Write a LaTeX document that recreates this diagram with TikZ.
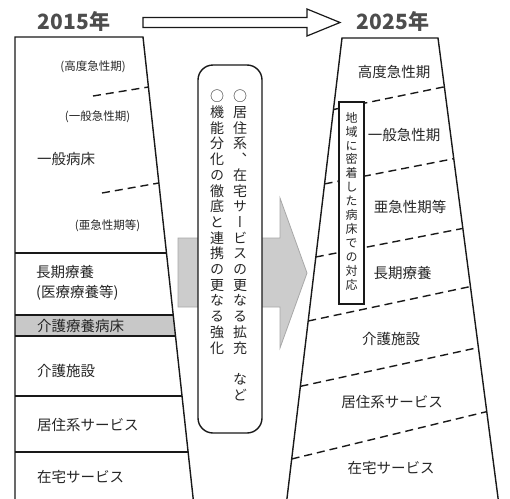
\documentclass[tikz,border=0pt]{standalone}
\usepackage{fontspec}
\setmainfont{Noto Sans CJK JP}
\newfontfamily\vjp[RawFeature=+vert]{Noto Sans CJK JP}
\definecolor{titlegray}{HTML}{4D4D4D}
\definecolor{txt}{HTML}{262626}
\definecolor{bandgray}{HTML}{C8C8C8}
\definecolor{arrowfill}{HTML}{CCCCCC}
\definecolor{arrowline}{HTML}{A8A8A8}
\tikzset{
  edge/.style={line width=1.4pt, black!90},
  dline/.style={line width=1.4pt, black!90, dash pattern=on 8pt off 5pt},
  lbl/.style={inner sep=0pt, text=txt, font=\fontsize{14.5}{20}\selectfont},
  smalllbl/.style={inner sep=0pt, text=txt, font=\fontsize{11.5}{14}\selectfont},
  yeartitle/.style={inner sep=0pt, text=titlegray, font=\bfseries\fontsize{21}{24}\selectfont},
  vcolumn/.style={inner sep=0pt, anchor=north, align=center, text=txt, font=\vjp\fontsize{14}{15.7}\selectfont},
  vsmall/.style={inner sep=0pt, anchor=north, align=center, text=txt, font=\vjp\fontsize{12}{13.9}\selectfont},
}
\begin{document}
\begin{tikzpicture}[x=1pt,y=-1pt]
\useasboundingbox (0,0) rectangle (510,498);
\clip (0,0) rectangle (510,498);

% top hollow arrow
\draw[line width=1.2pt, black!90, fill=white] (143,17.5) -- (307,17.5) -- (307,9) -- (340,22.5) -- (307,36) -- (307,27.5) -- (143,27.5) -- cycle;
\node[yeartitle] (y1) at (74,21) {2015年};
\node[yeartitle] (y2) at (393,21) {2025年};

% left trapezoid
\fill[bandgray] (15,315) -- (173.2,315) -- (175.4,336) -- (15,336) -- cycle;
\draw[edge] (15,520) -- (15,37) -- (143,37) -- (195.5,520);
\draw[edge] (15,253) -- (166.4,253);
\draw[edge] (15,315) -- (173.2,315);
\draw[edge] (15,336) -- (175.4,336);
\draw[edge] (15,396) -- (182,396);
\draw[edge] (15,452) -- (188.1,452);
\draw[dline] (93,96) -- (148.4,87);
\draw[dline] (102,193) -- (158.8,183);

\node[smalllbl] (l1) at (93,67) {(高度急性期)};
\node[smalllbl] (l2) at (97.5,117) {(一般急性期)};
\node[lbl, anchor=west] (l3) at (37,159) {一般病床};
\node[smalllbl] (l4) at (107.5,226) {(亜急性期等)};
\node[lbl, anchor=west, align=left] (l5) at (36,283) {長期療養\\(医療療養等)};
\node[lbl, anchor=west] (l6) at (37,326) {介護療養病床};
\node[lbl, anchor=west] (l7) at (37,371) {介護施設};
\node[lbl, anchor=west] (l8) at (37,425) {居住系サービス};
\node[lbl, anchor=west] (l9) at (37,477) {在宅サービス};

% middle gray arrow
\draw[line width=0.8pt, draw=arrowline, fill=arrowfill] (178,238) -- (280,238) -- (280,198) -- (307,273) -- (280,348) -- (280,307) -- (178,307) -- cycle;

% rounded box
\draw[edge, fill=white, rounded corners=15pt] (198,65) rectangle (262,433);
\node[vcolumn] (c1) at (240,90) {○\\居\\住\\系\\、\\在\\宅\\サ\\ー\\ビ\\ス\\の\\更\\な\\る\\拡\\充\\　\\な\\ど};
\node[vcolumn] (c2) at (217,90) {○\\機\\能\\分\\化\\の\\徹\\底\\と\\連\\携\\の\\更\\な\\る\\強\\化};

% right trapezoid
\draw[edge] (284.4,520) -- (342,38) -- (438,38) -- (500.9,520);
\draw[dline] (334,109.4) -- (444.4,86.8);
\draw[dline] (324.6,183.9) -- (453.8,158.7);
\draw[dline] (315.8,257) -- (462.9,228.4);
\draw[dline] (308.2,321) -- (470.5,286.5);
\draw[dline] (300.5,386.3) -- (478.4,347.5);
\draw[dline] (291.6,459) -- (486.8,411.6);

\node[lbl] (r1) at (394,72) {高度急性期};
\node[lbl] (r2) at (404,135) {一般急性期};
\node[lbl] (r3) at (410,207) {亜急性期等};
\node[lbl] (r4) at (402.5,273) {長期療養};
\node[lbl] (r5) at (391,339) {介護施設};
\node[lbl] (r6) at (392,402) {居住系サービス};
\node[lbl] (r7) at (391,468) {在宅サービス};

% small vertical box
\draw[line width=1.3pt, black!90, fill=white] (339,102) rectangle (364,304);
\node[vsmall] (sb) at (351.5,112) {地\\域\\に\\密\\着\\し\\た\\病\\床\\で\\の\\対\\応};
\end{tikzpicture}
\end{document}
